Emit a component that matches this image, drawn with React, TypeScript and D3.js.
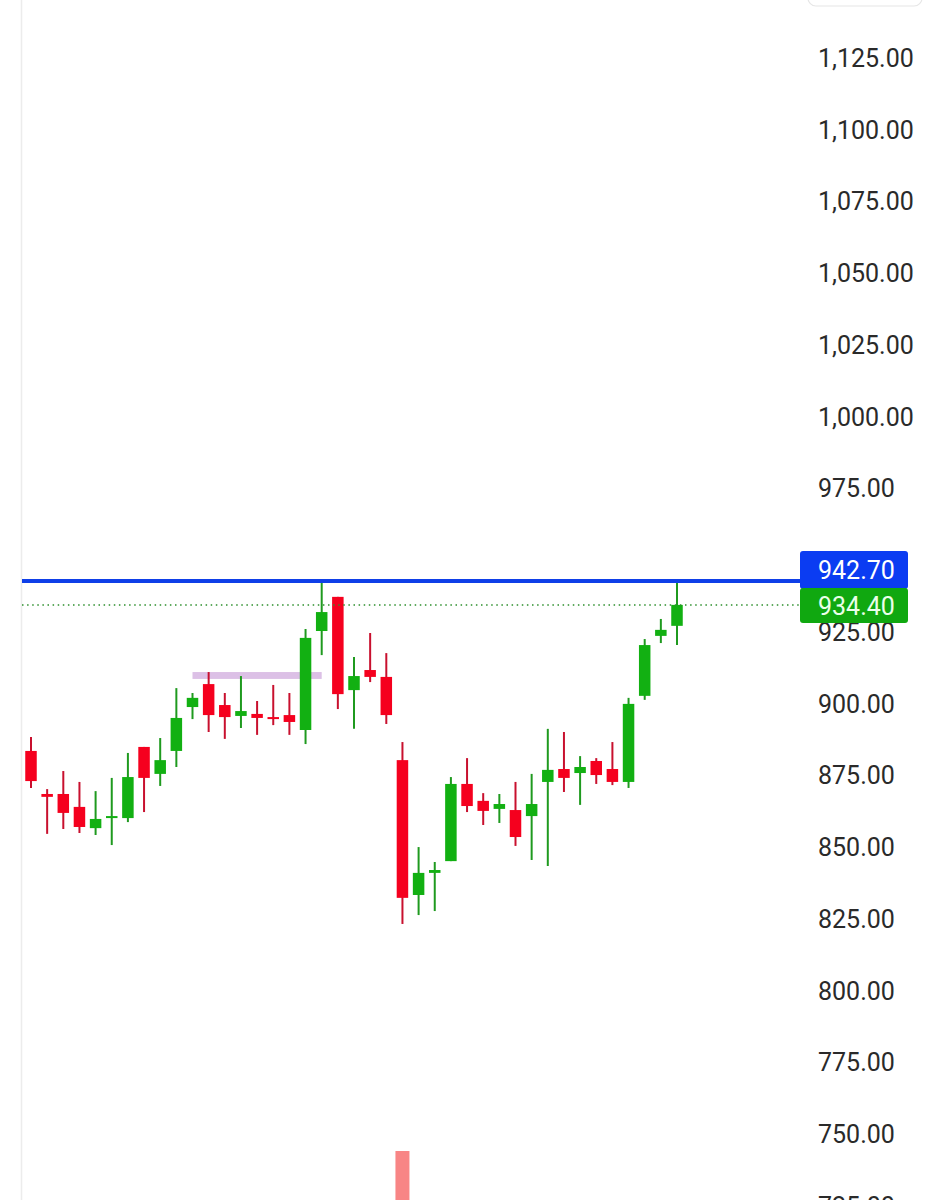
import React from 'react';
import * as d3 from 'd3';

const opens = [883.5, 868.5, 868.5, 864.0, 856.6, 860.5, 860.1, 884.9, 875.5, 883.5, 898.8, 906.8, 899.5, 895.7, 896.4, 895.3, 896.0, 890.8, 925.3, 937.2, 904.7, 911.7, 909.3, 880.3, 833.3, 841.0, 845.1, 872.0, 866.1, 863.3, 862.9, 860.8, 872.7, 877.2, 875.8, 880.0, 877.2, 872.7, 902.7, 923.6, 927.1];
const highs = [888.4, 870.2, 876.5, 872.7, 869.5, 874.1, 882.8, 884.9, 888.0, 905.4, 903.7, 911.0, 903.7, 909.6, 900.9, 906.5, 903.7, 926.0, 942.7, 937.2, 916.2, 924.6, 917.6, 886.6, 850.0, 844.8, 874.4, 881.0, 868.8, 868.5, 872.7, 875.5, 891.2, 890.1, 881.7, 881.0, 886.6, 902.0, 922.5, 929.5, 942.7];
const lows = [870.6, 854.6, 856.3, 854.9, 854.2, 850.7, 858.7, 862.2, 871.3, 877.9, 894.6, 890.1, 887.7, 891.5, 889.1, 892.5, 889.1, 885.9, 916.9, 898.1, 891.2, 907.5, 892.9, 823.2, 826.3, 827.7, 845.1, 862.2, 857.7, 858.4, 850.4, 845.5, 843.4, 869.2, 864.7, 872.0, 871.6, 870.6, 901.3, 921.1, 920.4];
const closes = [873.0, 867.5, 861.9, 857.0, 859.8, 860.8, 874.4, 874.1, 880.3, 895.0, 902.0, 896.0, 895.3, 897.4, 895.0, 894.6, 893.6, 922.9, 931.9, 903.3, 909.6, 909.3, 896.0, 832.3, 841.0, 842.0, 872.0, 864.3, 862.6, 865.0, 853.5, 865.0, 876.9, 874.1, 877.9, 875.1, 872.7, 899.9, 920.4, 925.7, 934.4];
// only the one volume bar that reaches into view is known
const volumes: (number | null)[] = closes.map((_, i) => (i === 23 ? 74.5 : null));

const yTicks = [725, 750, 775, 800, 825, 850, 875, 900, 925, 950, 975, 1000, 1025, 1050, 1075, 1100, 1125];
const resistanceLevel = 942.7;
const lastPrice = 934.4;
const zoneFrom = 10;
const zoneTo = 18;
const zoneLow = 908.6;
const zoneHigh = 911.0;

const UP = '#12b012';
const UP_WICK = '#1f9a1f';
const DOWN = '#f5001e';
const DOWN_WICK = '#c8102e';

export default function App() {
  const W = 929;
  const H = 1200;
  const x = d3.scaleLinear().domain([0, closes.length - 1]).range([31, 677]);
  const y = d3.scaleLinear().domain([750, 1125]).range([1134, 58]);
  const vy = d3.scaleLinear().domain([0, 100]).range([1300, 1100]);
  const fmt = d3.format(',.2f');
  const bodyW = 11.5;
  const plotLeft = 22;
  const boxX = 800;
  const boxTop = y(resistanceLevel) - 30;
  const boxBottom = y(lastPrice) + 18;
  // axis labels hidden behind the price boxes are not drawn
  const visibleTicks = yTicks.filter((t) => !(y(t) > boxTop - 5 && y(t) < boxBottom - 20));

  return (
    <svg width={W} height={H} style={{ position: 'absolute', left: 0, top: 0, background: '#fff' }}>
      <rect x={0} y={0} width={W} height={H} fill="#fff" />
      <line x1={21.5} x2={21.5} y1={0} y2={H} stroke="#ececec" strokeWidth={1.5} />
      <rect x={808} y={-30} width={114} height={36} rx={8} fill="#fff" stroke="#e6e6e6" strokeWidth={1.2} />

      {volumes.map((v, i) =>
        v == null ? null : (
          <rect key={'v' + i} x={x(i) - 7} y={vy(v)} width={14} height={vy(0) - vy(v)} fill="#f88585" />
        )
      )}

      <rect x={x(zoneFrom)} y={y(zoneHigh)} width={x(zoneTo) - x(zoneFrom)} height={y(zoneLow) - y(zoneHigh)} fill="#dcc0e6" />

      {closes.map((c, i) => {
        const o = opens[i];
        const up = c >= o;
        const top = y(Math.max(o, c));
        const bot = y(Math.min(o, c));
        const h = Math.max(2, bot - top);
        return (
          <g key={i}>
            <line x1={x(i)} x2={x(i)} y1={y(highs[i])} y2={y(lows[i])} stroke={up ? UP_WICK : DOWN_WICK} strokeWidth={2} />
            <rect x={x(i) - bodyW / 2} y={top} width={bodyW} height={h} fill={up ? UP : DOWN} />
          </g>
        );
      })}

      <line x1={plotLeft} x2={boxX} y1={y(resistanceLevel)} y2={y(resistanceLevel)} stroke="#0f3fe8" strokeWidth={4} />
      <line x1={plotLeft} x2={boxX} y1={y(lastPrice)} y2={y(lastPrice)} stroke="#2d8f2d" strokeWidth={1.5} strokeDasharray="1.5 3.6" />

      {visibleTicks.map((t) => (
        <text key={t} x={818} y={y(t)} dy="0.36em" fontFamily="Roboto, sans-serif" fontSize={25} fill="#2a2a2a">
          {fmt(t)}
        </text>
      ))}

      <rect x={boxX} y={boxTop} width={108} height={38} rx={3} fill="#0b3cf2" />
      <text x={818} y={y(resistanceLevel) - 11} dy="0.36em" fontFamily="Roboto, sans-serif" fontSize={25} fill="#ffffff">
        {resistanceLevel.toFixed(2)}
      </text>
      <rect x={boxX} y={y(lastPrice) - 17} width={108} height={35} rx={3} fill="#10a810" />
      <text x={818} y={y(lastPrice) + 1} dy="0.36em" fontFamily="Roboto, sans-serif" fontSize={25} fill="#eaffea">
        {lastPrice.toFixed(2)}
      </text>
    </svg>
  );
}
